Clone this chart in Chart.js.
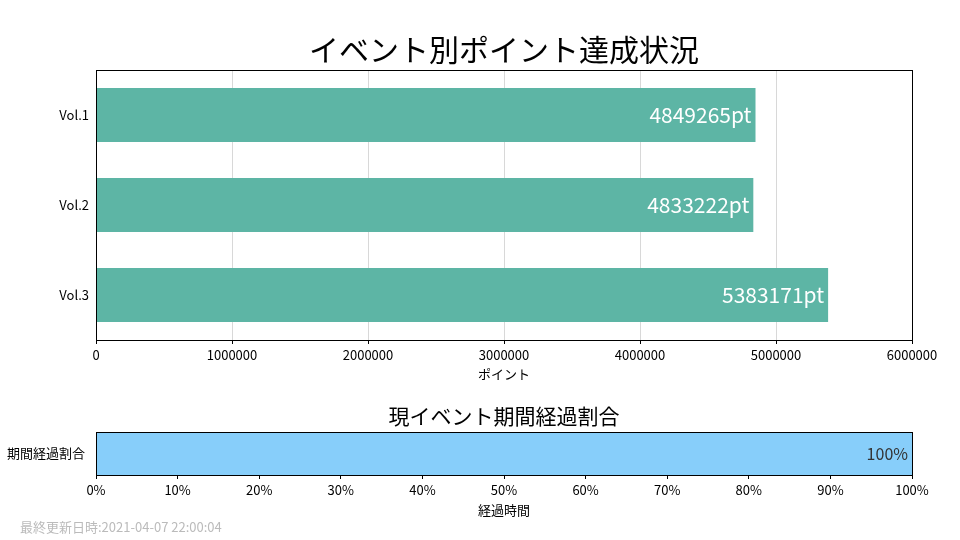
<!DOCTYPE html>
<html>
<head>
<meta charset="utf-8">
<script src="https://cdn.jsdelivr.net/npm/chart.js@4/dist/chart.umd.min.js"></script>
<style>
  body { margin: 0; width: 960px; height: 540px; background: #fff; position: relative; overflow: hidden; font-family: "Noto Sans CJK JP", sans-serif; }
  #c1 { position: absolute; left: 0; top: 0; }
  #c2 { position: absolute; left: 0; top: 390px; }
  #footer { position: absolute; left: 20px; top: 517px; font-size: 13px; color: #bbb; }
</style>
</head>
<body>
<canvas id="c1" width="960" height="390"></canvas>
<canvas id="c2" width="960" height="150"></canvas>
<div id="footer">最終更新日時:2021-04-07 22:00:04</div>
<script>
const eventos = ['Vol.1', 'Vol.2', 'Vol.3']
const puntos = [4849265, 4833222, 5383171]
const progresoLabel = ['期間経過割合']
const progreso = [100]

Chart.defaults.font.family = '"Noto Sans CJK JP", sans-serif'
Chart.defaults.color = '#000'
Chart.defaults.animation = false

const marco = {
    id: 'marco',
    afterDraw: (chart) => {
        const { ctx, chartArea: a } = chart
        ctx.save()
        ctx.strokeStyle = '#000'
        ctx.lineWidth = 1
        ctx.strokeRect(a.left + 0.5, a.top + 0.5, a.right - a.left, a.bottom - a.top)
        ctx.restore()
    }
}

// titulo centrado sobre el area del grafico
const titulo = (texto, size, y) => ({
    id: 'titulo',
    afterDraw: (chart) => {
        const { ctx, chartArea: a } = chart
        ctx.save()
        ctx.fillStyle = '#000'
        ctx.font = `${size}px "Noto Sans CJK JP", sans-serif`
        ctx.textAlign = 'center'
        ctx.textBaseline = 'middle'
        ctx.fillText(texto, (a.left + a.right) / 2, y)
        ctx.restore()
    }
})

const etiquetas = (formato, color, size) => ({
    id: 'etiquetas',
    afterDatasetsDraw: (chart) => {
        const { ctx } = chart
        const meta = chart.getDatasetMeta(0)
        ctx.save()
        ctx.fillStyle = color
        ctx.font = `${size}px "Noto Sans CJK JP", sans-serif`
        ctx.textAlign = 'right'
        ctx.textBaseline = 'middle'
        meta.data.forEach((bar, i) => {
            ctx.fillText(formato(chart.data.datasets[0].data[i]), bar.x - 4, bar.y)
        })
        ctx.restore()
    }
})

new Chart(document.getElementById('c1'), {
    type: 'bar',
    data: {
        labels: eventos,
        datasets: [{ data: puntos, backgroundColor: '#5db5a5', barPercentage: 0.6, categoryPercentage: 1 }]
    },
    plugins: [marco, titulo('イベント別ポイント達成状況', 30, 50), etiquetas(v => v + 'pt', '#fff', 21)],
    options: {
        indexAxis: 'y',
        responsive: false,
        layout: { padding: { left: 0, right: 48, top: 70 } },
        plugins: { legend: { display: false }, tooltip: { enabled: false } },
        scales: {
            x: {
                min: 0, max: 6000000,
                ticks: { stepSize: 1000000, font: { size: 13 }, maxRotation: 0, callback: v => String(v) },
                grid: { color: '#d8d8d8', tickColor: '#000', tickLength: 4 },
                border: { display: false },
                title: { display: true, text: 'ポイント', font: { size: 13 }, padding: { top: 0, bottom: 8 } },
                afterFit: (s) => { s.height = 50 }
            },
            y: {
                ticks: { font: { size: 13 }, padding: 3 },
                grid: { display: false, tickLength: 4 },
                border: { display: false },
                afterFit: (s) => { s.width = 96 }
            }
        }
    }
})

new Chart(document.getElementById('c2'), {
    type: 'bar',
    data: {
        labels: progresoLabel,
        datasets: [{ data: progreso, backgroundColor: '#87cefa', barPercentage: 1, categoryPercentage: 1 }]
    },
    plugins: [marco, titulo('現イベント期間経過割合', 21, 26), etiquetas(v => v + '%', '#333', 16)],
    options: {
        indexAxis: 'y',
        responsive: false,
        layout: { padding: { left: 0, right: 48, top: 42 } },
        plugins: { legend: { display: false }, tooltip: { enabled: false } },
        scales: {
            x: {
                min: 0, max: 100,
                ticks: { stepSize: 10, font: { size: 13 }, maxRotation: 0, callback: v => v + '%' },
                grid: { color: '#d8d8d8', tickColor: '#000', tickLength: 4 },
                border: { display: false },
                title: { display: true, text: '経過時間', font: { size: 13 }, padding: { top: 0, bottom: 22 } },
                afterFit: (s) => { s.height = 65 }
            },
            y: {
                ticks: { font: { size: 13 }, padding: 3 },
                grid: { display: false },
                border: { display: false },
                afterFit: (s) => { s.width = 96 }
            }
        }
    }
})
</script>
</body>
</html>
